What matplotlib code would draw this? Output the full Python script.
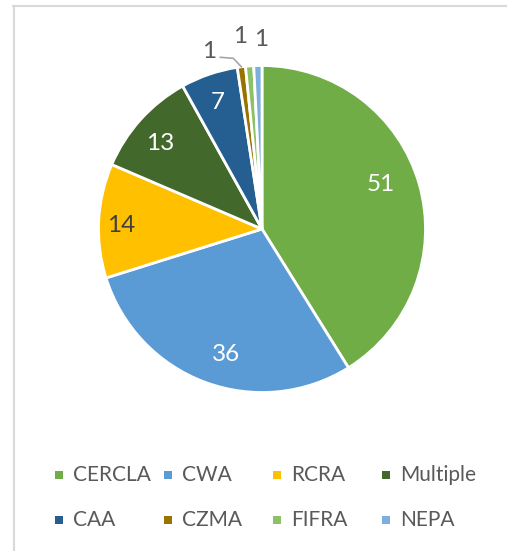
import numpy as np
import matplotlib
matplotlib.use("Agg")
import matplotlib.pyplot as plt
from matplotlib.lines import Line2D
from matplotlib.patches import Rectangle

plt.rcParams['font.family'] = ['Lato', 'DejaVu Sans']

labels = ['CERCLA', 'CWA', 'RCRA', 'Multiple', 'CAA', 'CZMA', 'FIFRA', 'NEPA']
values = [51, 36, 14, 13, 7, 1, 1, 1]
colors = ['#70AD47', '#5B9BD5', '#FFC000', '#43682B', '#255E91', '#997300', '#8CC168', '#7CAFDD']
label_colors = ['white', 'white', '#404040', 'white', 'white', '#595959', '#595959', '#595959']

W, H = 507, 551
fig = plt.figure(figsize=(W / 100, H / 100), dpi=100)

# pie centre and radius in pixels
cx, cy, R = 262, 229, 163.5
ax = fig.add_axes([(cx - R) / W, 1 - (cy + R) / H, 2 * R / W, 2 * R / H])
wedges, _ = ax.pie(values, colors=colors, startangle=90, counterclock=False,
                   wedgeprops=dict(edgecolor='white', linewidth=2))
ax.set_xlim(-1, 1)
ax.set_ylim(-1, 1)
ax.set_aspect('equal')

px = 1 / R  # one pixel in data units
# label nudges in pixels (x right, y up): inside labels from 0.8R, outside from the rim
nudge = {0: (-7, 9), 1: (9, -3), 2: (-10, -3), 3: (-5, -2), 4: (-2, 3),
         5: (-32, 15), 6: (-9, 29), 7: (3, 26)}
for i, w in enumerate(wedges):
    mid = np.deg2rad((w.theta1 + w.theta2) / 2)
    r = 0.8 if values[i] >= 5 else 1.0
    bx, by = r * np.cos(mid), r * np.sin(mid)
    ox, oy = nudge[i]
    ax.text(bx + ox * px, by + oy * px, str(values[i]), color=label_colors[i],
            fontsize=17.5, ha='center', va='center')
    if i == 5:
        ax.plot([bx, bx - 8 * px, bx - 21 * px], [by, by + 8.5 * px, by + 9.5 * px],
                color='#A6A6A6', lw=1.2, clip_on=False)

# chart area border (only top and left visible)
fig.add_artist(Line2D([13.5 / W, 13.5 / W], [1 - 6 / H, 0], color='#D9D9D9', lw=1.5))
fig.add_artist(Line2D([13 / W, 1], [1 - 6 / H, 1 - 6 / H], color='#D9D9D9', lw=1.5))

# legend, two rows of four equal columns
col_x = [55, 164, 273, 382]
row_y = [475, 520]
for i, lab in enumerate(labels):
    x = col_x[i % 4]
    y = row_y[i // 4]
    s = 7.5
    fig.add_artist(Rectangle((x / W, 1 - (y + s / 2) / H), s / W, s / H,
                             facecolor=colors[i], edgecolor='none'))
    fig.text((x + 18) / W, 1 - y / H, lab, color='#595959', fontsize=15,
             ha='left', va='center')

fig.savefig('out.png', dpi=100)
